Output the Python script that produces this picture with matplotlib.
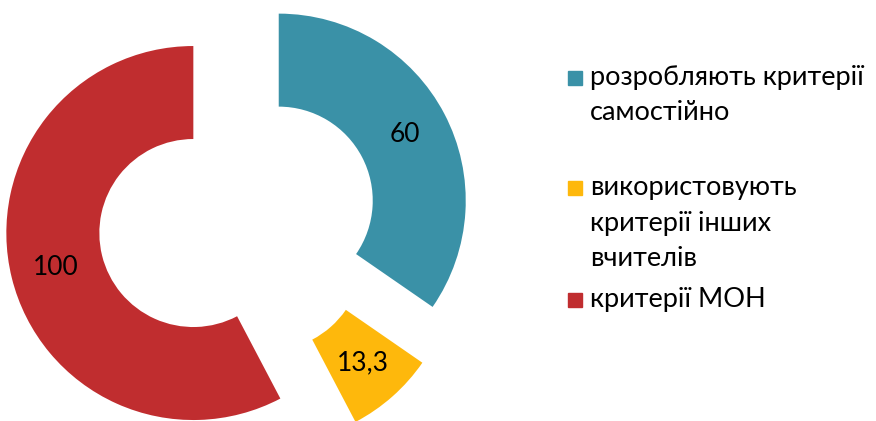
import matplotlib.pyplot as plt
from matplotlib.patches import Rectangle

# data
values = [60, 13.3, 100]
value_labels = ["60", "13,3", "100"]
legend_lines = [["розробляють критерії", "самостійно"],
                ["використовують", "критерії інших", "вчителів"],
                ["критерії МОН"]]
colors = ["#3A91A7", "#FEB80C", "#C02D2F"]

plt.rcParams['font.family'] = ['Lato', 'DejaVu Sans']

fig = plt.figure(figsize=(8.76, 4.21), dpi=100)
ax = fig.add_axes([0, 0, 1, 1])

# pie in pixel-like data units (y up)
wedges, texts, autotexts = ax.pie(values, colors=colors, startangle=90, counterclock=False,
                                  radius=187, center=(238, 199), explode=[46, 46, 46],
                                  wedgeprops=dict(width=93, linewidth=0),
                                  autopct=lambda p: '', pctdistance=0.76)
for t, lab in zip(autotexts, value_labels):
    t.set_text(lab)
    t.set_fontsize(19)
    t.set_color('black')

ax.set_xlim(0, 876)
ax.set_ylim(0, 421)
ax.set_aspect('equal')
ax.axis('off')

# legend drawn by hand (uneven spacing in original)
entry_y = [78, 188, 300]   # pixel y of first line of each entry
line_h = 35
for lines, col, y0 in zip(legend_lines, colors, entry_y):
    ax.add_patch(Rectangle((568, 421 - y0 - 7), 14, 14, color=col, clip_on=False))
    for k, txt in enumerate(lines):
        ax.text(590, 421 - (y0 + k * line_h), txt, fontsize=19.5, va='center', ha='left')

fig.savefig("out.png", dpi=100)
